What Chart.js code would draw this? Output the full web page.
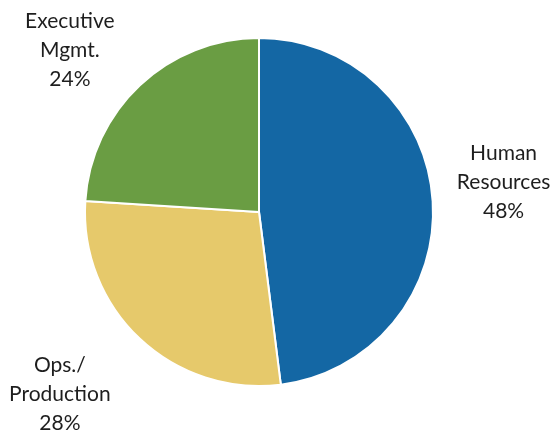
<!DOCTYPE html>
<html>
<head>
<meta charset="utf-8">
<script src="https://cdn.jsdelivr.net/npm/chart.js@4.4.1/dist/chart.umd.min.js"></script>
<style>
  html, body { margin: 0; padding: 0; background: #fff; }
  #wrap { width: 555px; height: 432px; position: relative; }
</style>
</head>
<body>
<div id="wrap"><canvas id="pie" width="555" height="432"></canvas></div>
<script>
// Department share
const departments = [['Human', 'Resources'], ['Ops./', 'Production'], ['Executive', 'Mgmt.']];
const shares = [48, 28, 24];
const sliceColors = ['#1467a4', '#e6c96b', '#6a9d43'];
// label nudge from the default outside spot (px)
const labelNudge = [[-2, -14], [-30, 2], [-20, 18]];

// draws the category + percent text outside each slice
const outsideLabels = {
  id: 'outsideLabels',
  afterDatasetsDraw(chart) {
    const ctx = chart.ctx;
    const meta = chart.getDatasetMeta(0);
    ctx.save();
    ctx.font = '21px Lato';
    ctx.fillStyle = '#1e1e1e';
    ctx.textAlign = 'center';
    ctx.textBaseline = 'middle';
    meta.data.forEach((arc, i) => {
      const mid = (arc.startAngle + arc.endAngle) / 2;
      const r = arc.outerRadius * 1.42;
      const x = arc.x + Math.cos(mid) * r + labelNudge[i][0];
      const y = arc.y + Math.sin(mid) * r + labelNudge[i][1];
      const lines = departments[i].concat([shares[i] + '%']);
      const lh = 29;
      lines.forEach((t, k) => {
        ctx.fillText(t, x, y + (k - (lines.length - 1) / 2) * lh);
      });
    });
    ctx.restore();
  }
};

new Chart(document.getElementById('pie'), {
  type: 'pie',
  data: {
    labels: departments.map(d => d.join(' ')),
    datasets: [{
      data: shares,
      backgroundColor: sliceColors,
      borderColor: '#ffffff',
      borderWidth: 2
    }]
  },
  options: {
    responsive: false,
    animation: false,
    layout: { padding: { left: 84, top: 37, right: 121, bottom: 45 } },
    plugins: {
      legend: { display: false },
      tooltip: { enabled: false }
    }
  },
  plugins: [outsideLabels]
});
</script>
</body>
</html>
